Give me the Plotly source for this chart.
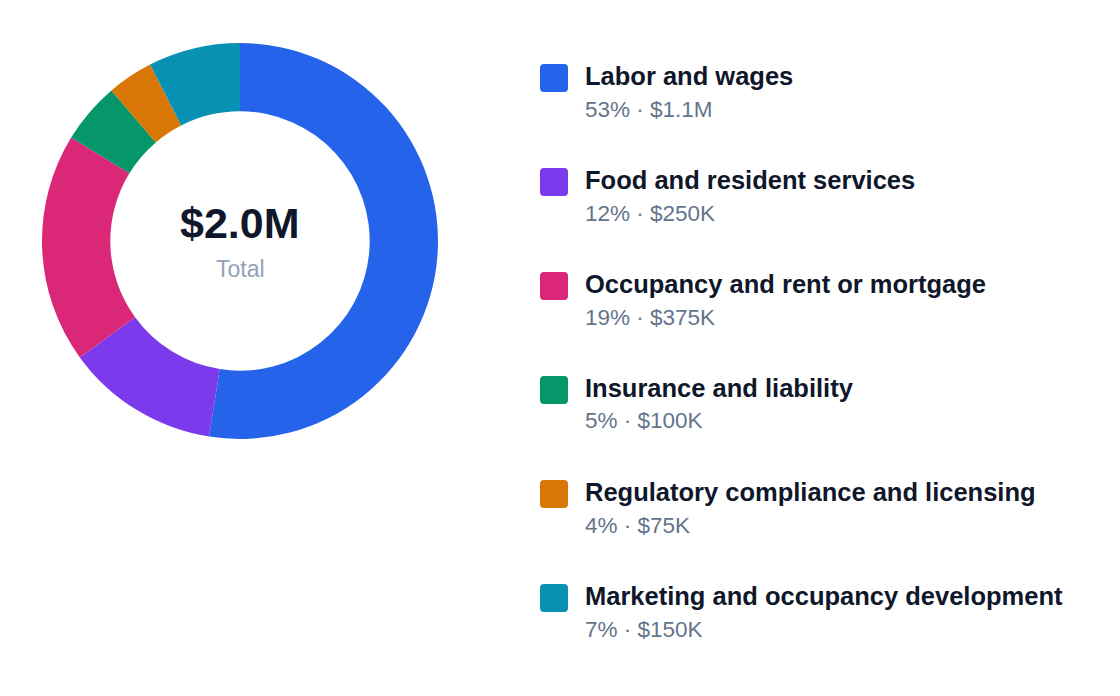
import plotly.graph_objects as go

categories = ["Labor and wages", "Food and resident services", "Occupancy and rent or mortgage",
              "Insurance and liability", "Regulatory compliance and licensing", "Marketing and occupancy development"]
values = [1050, 250, 375, 100, 75, 150]
pct_labels = ["53%", "12%", "19%", "5%", "4%", "7%"]
amount_labels = ["$1.1M", "$250K", "$375K", "$100K", "$75K", "$150K"]
colors = ["#2563EB", "#7C3AED", "#DB2777", "#059669", "#D97706", "#0891B2"]
total_label = "$2.0M"

W, H = 1120, 696
DX, DY = -8, -7
FONT = "Liberation Sans, Arial, sans-serif"

def px(x):
    return (x + DX) / W

def py(y):
    return 1 - (y + DY) / H

fig = go.Figure(go.Pie(
    labels=categories, values=values, hole=0.655, sort=False, direction="clockwise",
    rotation=0, marker=dict(colors=colors, line=dict(color="white", width=0)),
    textinfo="none", hoverinfo="label+percent+value", showlegend=False,
    domain=dict(x=[px(42), px(438)], y=[py(438), py(42)]),
))

ann = [
    dict(x=px(240), y=py(222), text=f"<b>{total_label}</b>", showarrow=False,
         font=dict(size=43, color="#0F172A", family=FONT), xanchor="center", yanchor="middle"),
    dict(x=px(240), y=py(268), text="Total", showarrow=False,
         font=dict(size=23, color="#94A3B8", family=FONT), xanchor="center", yanchor="middle"),
]
shapes = []
r = 4
s = 14
path = (f"M {-s+r},{-s} L {s-r},{-s} Q {s},{-s} {s},{-s+r} L {s},{s-r} Q {s},{s} {s-r},{s} "
        f"L {-s+r},{s} Q {-s},{s} {-s},{s-r} L {-s},{-s+r} Q {-s},{-s} {-s+r},{-s} Z")
for i, (cat, p, a, c) in enumerate(zip(categories, pct_labels, amount_labels, colors)):
    yc = 77 + 104 * i
    shapes.append(dict(type="path", xref="paper", yref="paper", xsizemode="pixel", ysizemode="pixel",
                       xanchor=px(554), yanchor=py(yc), path=path, fillcolor=c, line=dict(width=0)))
    ann.append(dict(x=px(583), y=py(yc - 2), text=f"<b>{cat}</b>", showarrow=False,
                    font=dict(size=25.5, color="#0F172A", family=FONT), xanchor="left", yanchor="middle"))
    ann.append(dict(x=px(583), y=py(yc + 31), text=f"{p} · {a}", showarrow=False,
                    font=dict(size=22.5, color="#64748B", family=FONT), xanchor="left", yanchor="middle"))

fig.update_layout(width=W, height=H, margin=dict(l=0, r=0, t=0, b=0),
                  paper_bgcolor="white", plot_bgcolor="white",
                  annotations=ann, shapes=shapes)
fig.write_html("out.html")
